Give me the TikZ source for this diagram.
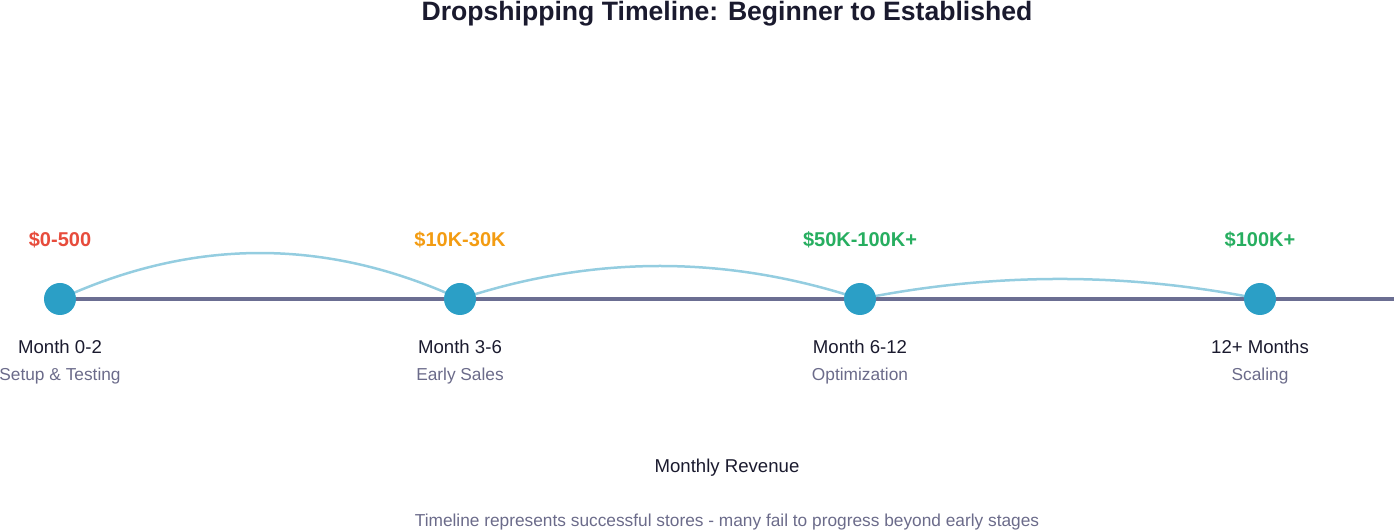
\documentclass[tikz,border=0pt]{standalone}
\usepackage{fontspec}
\setmainfont{Liberation Sans}
\usetikzlibrary{backgrounds}
\definecolor{dotblue}{HTML}{2B9FC6}
\definecolor{arcblue}{HTML}{94CDE0}
\definecolor{axisgray}{HTML}{6B6E92}
\definecolor{darktext}{HTML}{1A1A2E}
\definecolor{subgray}{HTML}{6B6B8A}
\definecolor{revred}{HTML}{E74C3C}
\definecolor{revorange}{HTML}{F39C12}
\definecolor{revgreen}{HTML}{27AE60}
\tikzset{
  stagedot/.style={circle, fill=dotblue, draw=none, minimum size=32pt, inner sep=0pt},
  revlabel/.style={anchor=base, inner sep=0pt, font=\fontsize{20}{24}\selectfont\bfseries},
  monthlabel/.style={anchor=base, inner sep=0pt, text=darktext, font=\fontsize{18.6}{22}\selectfont},
  sublabel/.style={anchor=base, inner sep=0pt, text=subgray, font=\fontsize{17.3}{20}\selectfont},
  arcline/.style={draw=arcblue, line width=2.5pt},
  axisline/.style={draw=axisgray, line width=4pt},
}
\begin{document}
\begin{tikzpicture}[x=1pt,y=1pt]
\useasboundingbox (0,0) rectangle (1394,530);
% title
\node[anchor=base, inner sep=0pt, text=darktext, font=\fontsize{26.6}{30}\selectfont\bfseries] (title) at (727,509) {Dropshipping Timeline: Beginner to Established};
% stage dots
\node[stagedot] (c1) at (60,231) {};
\node[stagedot] (c2) at (460,231) {};
\node[stagedot] (c3) at (860,231) {};
\node[stagedot] (c4) at (1260,231) {};
\coordinate (axisend) at (1394,231);
% revenue labels
\node[revlabel, text=revred] (r1) at (60,283) {\$0-500};
\node[revlabel, text=revorange] (r2) at (460,283) {\$10K-30K};
\node[revlabel, text=revgreen] (r3) at (860,283) {\$50K-100K+};
\node[revlabel, text=revgreen] (r4) at (1260,283) {\$100K+};
% month labels
\node[monthlabel] (m1) at (60,176) {Month 0-2};
\node[monthlabel] (m2) at (460,176) {Month 3-6};
\node[monthlabel] (m3) at (860,176) {Month 6-12};
\node[monthlabel] (m4) at (1260,176) {12+ Months};
% stage descriptions
\node[sublabel] (s1) at (60,149) {Setup \& Testing};
\node[sublabel] (s2) at (460,149) {Early Sales};
\node[sublabel] (s3) at (860,149) {Optimization};
\node[sublabel] (s4) at (1260,149) {Scaling};
% axis label and footnote
\node[monthlabel] (axislabel) at (727,57) {Monthly Revenue};
\node[sublabel] (footnote) at (727,4) {Timeline represents successful stores - many fail to progress beyond early stages};
\begin{pgfonlayer}{background}
\draw[axisline] (c1.center) -- (axisend);
\draw[arcline] (c1.center) .. controls +(133.3,61.3) and +(-133.3,61.3) .. (c2.center);
\draw[arcline] (c2.center) .. controls +(133.3,44) and +(-133.3,44) .. (c3.center);
\draw[arcline] (c3.center) .. controls +(133.3,26.7) and +(-133.3,26.7) .. (c4.center);
\end{pgfonlayer}
\end{tikzpicture}
\end{document}
